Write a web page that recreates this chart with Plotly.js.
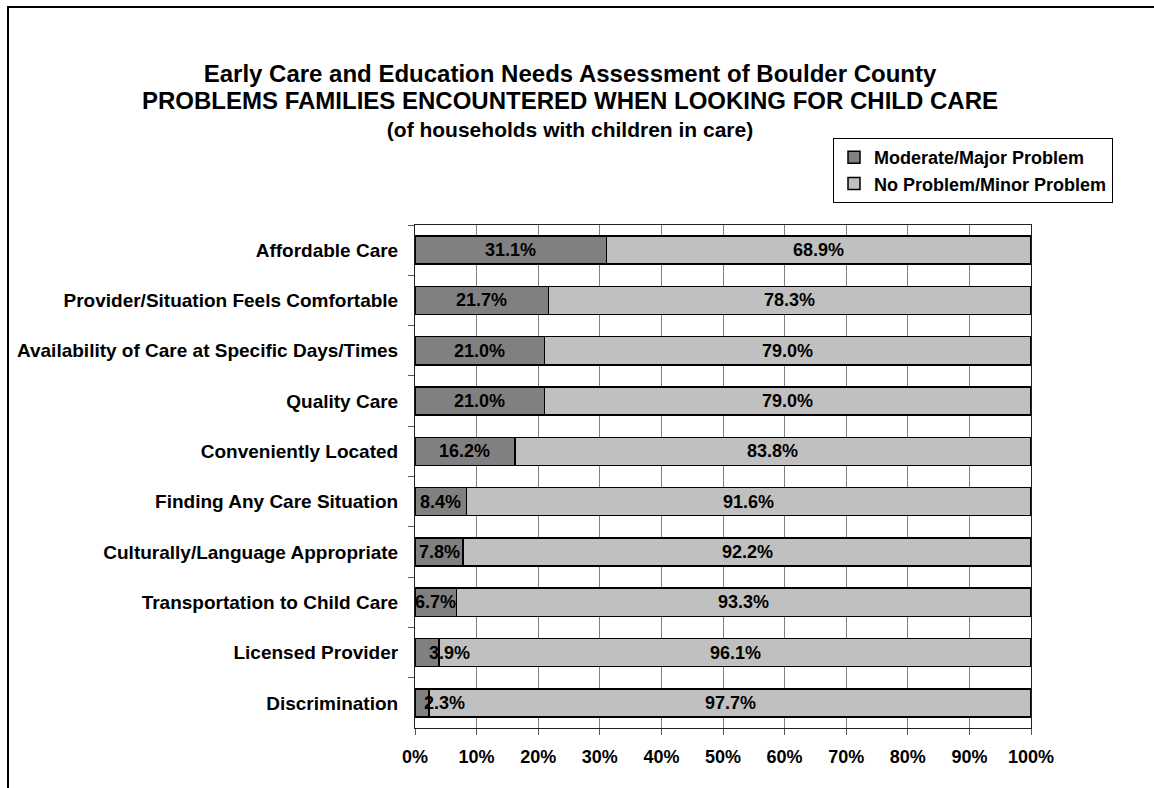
<!DOCTYPE html>
<html>
<head>
<meta charset="utf-8">
<script src="https://cdn.plot.ly/plotly-3.0.1.min.js"></script>
<style>
html,body{margin:0;padding:0;background:#fff;}
#chart{width:1154px;height:788px;}
</style>
</head>
<body>
<div id="chart"></div>
<script>
const categories = [
  "Affordable Care",
  "Provider/Situation Feels Comfortable",
  "Availability of Care at Specific Days/Times",
  "Quality Care",
  "Conveniently Located",
  "Finding Any Care Situation",
  "Culturally/Language Appropriate",
  "Transportation to Child Care",
  "Licensed Provider",
  "Discrimination"
];
const moderateMajor = [31.1, 21.7, 21.0, 21.0, 16.2, 8.4, 7.8, 6.7, 3.9, 2.3];
const noMinor = [68.9, 78.3, 79.0, 79.0, 83.8, 91.6, 92.2, 93.3, 96.1, 97.7];
const seriesNames = ["Moderate/Major Problem", "No Problem/Minor Problem"];
const titleLines = [
  "Early Care and Education Needs Assessment of Boulder County",
  "PROBLEMS FAMILIES ENCOUNTERED WHEN LOOKING FOR CHILD CARE",
  "(of households with children in care)"
];

const FONT = "Liberation Sans, Arial, sans-serif";
const lbl = {family: FONT, size: 18, color: "#000", weight: "bold"};
const ylbl = {family: FONT, size: 19, color: "#000", weight: "bold"};

const traces = [
  {
    type: "bar", orientation: "h", name: seriesNames[0],
    y: categories, x: moderateMajor,
    marker: {color: "#808080", line: {color: "#000", width: 1.5}},
    hoverinfo: "x+y"
  },
  {
    type: "bar", orientation: "h", name: seriesNames[1],
    y: categories, x: noMinor,
    marker: {color: "#c0c0c0", line: {color: "#000", width: 1.5}},
    hoverinfo: "x+y"
  }
];

const annotations = [];
categories.forEach((c, i) => {
  const a = moderateMajor[i];
  const b = noMinor[i];
  annotations.push({
    xref: "x", yref: "y", x: a / 2, y: c,
    text: a.toFixed(1) + "%", showarrow: false,
    xanchor: a < 5 ? "left" : "center", font: lbl
  });
  annotations.push({
    xref: "x", yref: "y", x: a + b / 2, y: c,
    text: b.toFixed(1) + "%", showarrow: false,
    xanchor: "center", font: lbl
  });
});

const L = 415, R = 1031, T = 225, B = 728;
const px = v => (v - L) / (R - L);
const py = v => (B - v) / (B - T);

const titleText =
  '<span style="font-size:24px">' + titleLines[0] + '</span><br>' +
  '<span style="font-size:24px">' + titleLines[1] + '</span><br>' +
  titleLines[2];

const layout = {
  width: 1154, height: 788,
  paper_bgcolor: "#fff", plot_bgcolor: "#fff",
  margin: {l: L, r: 1154 - R, t: T, b: 788 - B, pad: 0},
  barmode: "stack",
  bargap: 0.44,
  font: {family: FONT, size: 18, color: "#000", weight: "bold"},
  title: {
    text: titleText,
    font: {family: FONT, size: 21, color: "#000", weight: "bold"},
    xref: "container", yref: "container",
    x: 570 / 1154, xanchor: "center",
    y: 1 - 82 / 788, yanchor: "top"
  },
  xaxis: {
    range: [0, 100], dtick: 10, tick0: 0, ticksuffix: "%",
    showgrid: true, gridcolor: "#808080", gridwidth: 1,
    showline: true, linecolor: "#222", linewidth: 1, mirror: true,
    ticks: "outside", ticklen: 6, tickcolor: "#555",
    ticklabelstandoff: 6,
    zeroline: false, fixedrange: true,
    tickfont: lbl
  },
  yaxis: {
    type: "category", autorange: "reversed",
    showgrid: false, zeroline: false,
    showline: true, linecolor: "#222", linewidth: 1, mirror: true,
    ticks: "outside", ticklen: 6, tickcolor: "#555",
    tickson: "boundaries",
    ticklabelstandoff: 12,
    tickfont: ylbl, fixedrange: true
  },
  legend: {
    x: px(833), xanchor: "left",
    y: py(138), yanchor: "top",
    bgcolor: "#fff", bordercolor: "#000", borderwidth: 1,
    font: lbl, traceorder: "normal", itemwidth: 30,
    tracegroupgap: 0
  },
  annotations: annotations,
  shapes: [
    {type: "line", xref: "paper", yref: "paper",
     x0: px(7), x1: px(1160), y0: py(7), y1: py(7),
     line: {color: "#000", width: 2}},
    {type: "line", xref: "paper", yref: "paper",
     x0: px(8), x1: px(8), y0: py(6), y1: py(800),
     line: {color: "#000", width: 2}}
  ],
  showlegend: true
};

Plotly.newPlot("chart", traces, layout, {displayModeBar: false, staticPlot: true});
</script>
</body>
</html>
